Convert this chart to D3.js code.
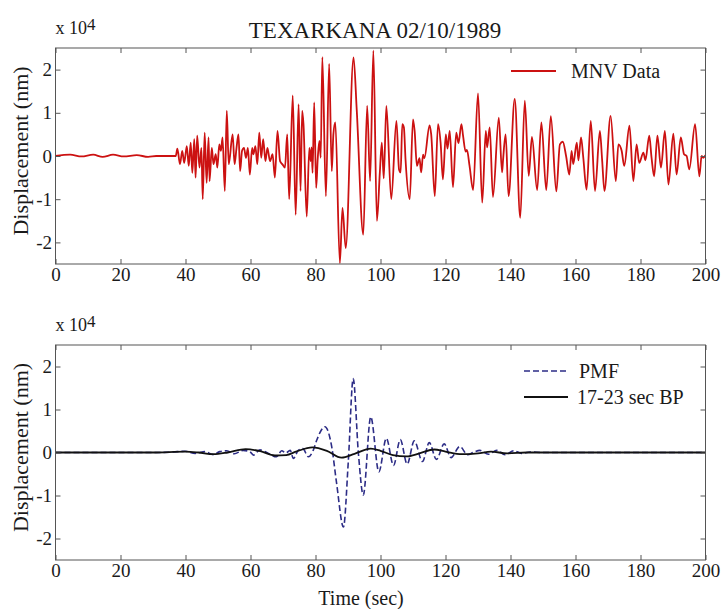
<!DOCTYPE html>
<html>
<head>
<meta charset="utf-8">
<script src="https://cdn.jsdelivr.net/npm/d3@7"></script>
<style>
  body { margin: 0; background: #fff; }
  svg text { font-family: "Liberation Serif", "Times New Roman", "DejaVu Serif", serif; fill: #1a1a1a; }
</style>
</head>
<body>
<svg id="chart" width="726" height="609"></svg>
<script>

// values, displacement in units of 10^4 nm
const mnvTime = [0, 4.5, 8, 11.6, 14.5, 17.7, 21, 25, 28.5, 31, 37,
    37.5, 38.3, 39.0, 39.6, 40.4, 41.0, 41.6, 42.1, 42.7, 43.1, 43.6, 44.3, 44.9, 45.3, 45.9, 46.5, 47.1, 47.4, 48.1, 48.6,
    49.3, 49.8, 50.4, 50.9, 51.4, 52.1, 52.7, 53.3, 54.5, 55.1, 55.7, 56.3, 56.8, 57.4, 58.0, 58.6, 59.2, 59.8, 60.5, 60.9,
    61.5, 62.1, 62.7, 63.3, 63.9, 64.6, 65.2, 66.0, 66.8, 67.5, 68.3, 69.1, 69.9, 70.6, 71.3, 71.9, 73.0, 73.9, 74.8, 75.4,
    75.9, 76.3, 77.3, 78.1, 78.5, 78.8, 79.1, 79.6, 80.2, 80.7, 81.2, 81.6, 82.1, 83.2, 84.2, 85.0, 85.5, 86.1, 87.5, 88.3,
    89.3, 91.7, 92.7, 94.7, 95.9, 96.8, 97.8, 98.9, 99.8, 100.4, 101.0, 101.8, 103.3, 104.9, 105.7, 106.2, 106.7, 107.2, 107.7,
    109.0, 110.0, 110.5, 111.2, 112.0, 112.5, 113.1, 113.5, 115.1, 115.6, 116.7, 117.7, 118.5, 119.2, 120.1, 120.6, 121.3,
    122.3, 123.3, 124.0, 124.9, 125.4, 126.2, 126.6, 127.4, 128.5, 130.0, 131.3, 132.4, 132.8, 133.6, 134.6, 136.4, 137.4,
    137.7, 138.5, 139.4, 141.3, 143.0, 144.4, 145.6, 146.6, 148.2, 149.5, 151.0, 152.4, 154.1, 155.2, 156.1, 157.1, 158.1,
    158.8, 159.3, 160.4, 160.9, 161.7, 162.4, 163.4, 164.7, 166.0, 167.5, 168.2, 168.9, 170.8, 172.4, 173.2, 174.2, 175.0,
    176.6, 177.8, 178.8, 179.6, 180.9, 181.5, 182.7, 183.4, 184.2, 185.2, 186.3, 187.5, 188.6, 190.1, 191.1, 192.4, 193.4,
    194.2, 195.0, 196.8, 198.1, 198.8, 199.3, 200]
const mnvValue = [0, 0.03, -0.01, 0.03, -0.02, 0.03, -0.01, 0.02, -0.02, 0.0, 0.0,
    0.17, -0.19, 0.12, -0.16, 0.23, -0.23, 0.31, -0.39, 0.39, -0.5, 0.47, -0.27, 0.19, -1.0, 0.54, -0.62, 0.43, -0.58, 0.19, -0.19,
    0.04, -0.27, 0.27, 0.12, 0.43, -0.81, 1.05, -0.19, 0.5, -0.19, 0.19, 0.5, -0.35, 0.12, 0.19, -0.04, 0.19, -0.43, 0.19, 0.04,
    0.23, -0.19, 0.54, -0.04, 0.39, -0.12, 0.19, -0.12, 0.04, -0.5, 0.58, -0.12, -0.2, -0.27, 0.5, -1.0, 1.4, -1.36, 1.2, -0.81,
    1.05, 0.74, -1.4, 0.19, -0.12, 0.2, -0.39, 1.24, -0.74, -0.04, 0.35, -0.04, 2.29, -0.93, 2.13, -0.35, 0.5, 0.78, -2.48, -1.2,
    -2.13, 2.28, 1.05, -1.82, 1.16, -0.58, 2.44, -1.5, -0.38, 0.31, -0.52, 1.16, -1.0, 0.81, -0.31, -0.38, 0.74, 0.66, -0.08,
    -1.0, 0.85, 0.58, -0.23, -0.05, -0.38, 0.03, -0.05, 0.71, 0.5, -0.93, 0.74, 0.3, -0.54, 0.5, 0.17, 0.58,
    -0.72, 0.54, 0.3, 0.74, 0.47, 0.1, 0.14, -0.23, -0.79, 1.45, -1.08, 0.58, 0.2, 0.66, -0.95, 0.89, -0.38,
    -0.1, 0.5, -0.93, 1.32, -1.43, 1.28, -0.46, 0.44, -0.79, 0.78, -0.79, 0.92, -0.82, 0.27, 0.33, 0.0, -0.43,
    0.12, -0.19, 0.31, -0.1, 0.43, -0.04, -0.78, 0.81, -0.81, 0.58, -0.1, -0.81, 0.93, -0.58, 0.27, 0.12, -0.23,
    0.7, -0.58, 0.27, -0.16, 0.08, -0.1, 0.47, -0.04, -0.47, 0.47, -0.27, 0.58, -0.66, 0.52, -0.43, 0.43, 0.04,
    0.0, -0.31, 0.74, -0.47, 0.0, -0.04, 0.02]

const pmfTime = [0, 30, 36, 39.8, 43, 46, 48.5, 50.5, 52.7, 55, 57.7, 59.8, 60.9, 62.9, 65, 68, 69.6, 70.9, 72.2, 73.2,
    74.7, 76.1, 77.8, 79.3, 80.4, 82.9, 85, 86.5, 88.6, 90.1, 91.6, 93.2, 94.7, 97.0, 99.5, 101.8, 104.0, 106.1, 108.2,
    110.4, 112.9, 115.0, 117.2, 119.6, 121.7, 124.4, 126.8, 128.5, 130.6, 133.2, 135.8, 138.3, 141.1, 143.4, 146, 150, 200]
const pmfValue = [0, 0, 0.01, 0.03, -0.02, 0.02, -0.05, 0.02, 0.04, -0.03, 0.05, 0.02, -0.06, 0.06, 0.0, -0.1, 0.04, -0.01, 0.05, -0.14,
    0.05, 0.09, -0.1, 0.05, 0.29, 0.6, 0.13, -0.72, -1.73, -0.2, 1.72, -0.02, -0.99, 0.83, -0.45, 0.33, -0.3, 0.3, -0.27,
    0.27, -0.21, 0.23, -0.16, 0.2, -0.12, 0.14, -0.05, 0.0, 0.05, -0.04, 0.05, -0.05, 0.04, -0.02, 0.01, 0, 0]

const bpTime = [0, 30, 40, 44, 48.6, 53, 58.5, 63, 67.5, 71, 74, 79, 83.5, 88, 92, 97, 100, 103.8, 108, 112, 116.5,
    120, 125, 130, 134, 139, 145, 200]
const bpValue = [0, 0, 0.02, 0.0, -0.04, 0.0, 0.08, 0.03, -0.07, -0.06, 0.02, 0.12, 0.04, -0.12, -0.03, 0.09, 0.04, -0.06,
    -0.09, -0.02, 0.07, 0.02, -0.04, -0.02, 0.02, -0.02, 0, 0]

const xTicks = [0, 20, 40, 60, 80, 100, 120, 140, 160, 180, 200]
const yTicks = [-2, -1, 0, 1, 2]


//set up svg container
const svg = d3.select('#chart')
const serif = '"Liberation Serif", "Times New Roman", "DejaVu Serif", serif'
const left = 55.5
const right = 705.5
const frameColor = '#555'
const x = d3.scaleLinear().domain([0, 200]).range([left, right])


const drawPanel = ({ id, top, bottom, series, legend }) => {
    const y = d3.scaleLinear().domain([-2.5, 2.5]).range([bottom, top])
    const g = svg.append('g')

    g.append('clipPath').attr('id', id)
        .append('rect')
        .attr('x', left).attr('y', top)
        .attr('width', right - left).attr('height', bottom - top)

// traces
    series.forEach(s => {
        const pts = s.time.map((t, i) => [t, s.value[i]])
        g.append('path')
            .datum(pts)
            .attr('clip-path', `url(#${id})`)
            .attr('d', d3.line().x(d => x(d[0])).y(d => y(d[1])).curve(d3.curveMonotoneX))
            .attr('fill', 'none')
            .attr('stroke', s.color)
            .attr('stroke-width', s.width)
            .attr('stroke-dasharray', s.dash)
            .attr('stroke-linejoin', 'round')
    })

// axes, ticks pointing inward on every side
    const fix = sel => {
        sel.attr('font-family', serif).attr('font-size', 19)
        sel.select('.domain').remove()
        sel.selectAll('.tick line').attr('stroke', frameColor)
        sel.selectAll('.tick text').attr('fill', '#1a1a1a')
    }
    g.append('g').attr('transform', `translate(0,${bottom})`)
        .call(d3.axisBottom(x).tickValues(xTicks).tickSize(-5).tickPadding(3.5).tickFormat(d => String(d)))
        .call(fix)
    g.append('g').attr('transform', `translate(0,${top})`)
        .call(d3.axisTop(x).tickValues(xTicks).tickSize(-5).tickFormat(''))
        .call(fix)
    g.append('g').attr('transform', `translate(${left},0)`)
        .call(d3.axisLeft(y).tickValues(yTicks).tickSize(-5).tickPadding(3.5).tickFormat(d => String(d)))
        .call(fix)
    g.append('g').attr('transform', `translate(${right},0)`)
        .call(d3.axisRight(y).tickValues(yTicks).tickSize(-5).tickFormat(''))
        .call(fix)

    g.append('rect')
        .attr('x', left).attr('y', top)
        .attr('width', right - left).attr('height', bottom - top)
        .attr('fill', 'none').attr('stroke', frameColor).attr('stroke-width', 1)

// x 10^4 multiplier
    const mult = g.append('text').attr('x', left).attr('y', top - 14).style('font-size', '18px')
    mult.append('tspan').text('x 10')
    mult.append('tspan').attr('dy', -4).style('font-size', '17px').text('4')

// y label
    g.append('text')
        .attr('transform', `translate(28,${(top + bottom) / 2 - 5}) rotate(-90)`)
        .attr('text-anchor', 'middle')
        .style('font-size', '22px')
        .text('Displacement (nm)')

// legend
    legend.forEach(l => {
        g.append('line')
            .attr('x1', l.x1).attr('x2', l.x2).attr('y1', l.y).attr('y2', l.y)
            .attr('stroke', l.color).attr('stroke-width', l.width).attr('stroke-dasharray', l.dash)
        g.append('text')
            .attr('x', l.tx).attr('y', l.y + 7)
            .style('font-size', '20px')
            .text(l.label)
    })
}


const mnv = { time: mnvTime, value: mnvValue, color: '#cc1111', width: 1.8, dash: null }
const pmf = { time: pmfTime, value: pmfValue, color: '#2c2c86', width: 1.6, dash: '6,3' }
const bp = { time: bpTime, value: bpValue, color: '#111', width: 1.8, dash: null }

drawPanel({
    id: 'clipTop', top: 48, bottom: 264, series: [mnv],
    legend: [{ label: 'MNV Data', x1: 511, x2: 556, tx: 571, y: 71, color: mnv.color, width: 1.8, dash: null }]
})
drawPanel({
    id: 'clipBottom', top: 345, bottom: 560, series: [pmf, bp],
    legend: [
        { label: 'PMF', x1: 524, x2: 568, tx: 579, y: 371, color: pmf.color, width: 1.6, dash: '6,3' },
        { label: '17-23 sec BP', x1: 524, x2: 568, tx: 577, y: 397, color: bp.color, width: 1.8, dash: null }
    ]
})

// title and x label
svg.append('text')
    .attr('x', 375).attr('y', 38)
    .attr('text-anchor', 'middle')
    .style('font-size', '23px')
    .text('TEXARKANA 02/10/1989')

svg.append('text')
    .attr('x', 361).attr('y', 605)
    .attr('text-anchor', 'middle')
    .style('font-size', '20px')
    .text('Time (sec)')

</script>
</body>
</html>
